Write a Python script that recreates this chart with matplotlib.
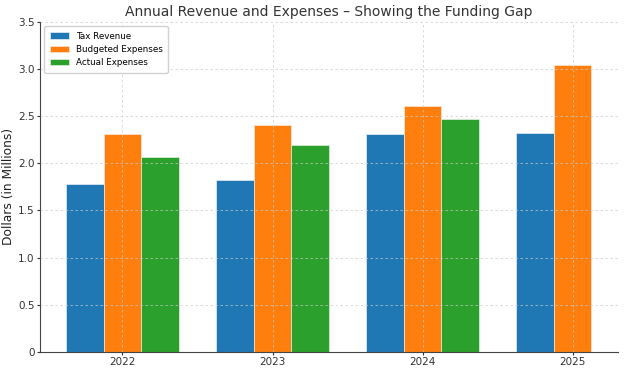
import numpy as np
import matplotlib.pyplot as plt

years = ['2022', '2023', '2024', '2025']
tax_revenue = [1.78, 1.82, 2.31, 2.32]
budgeted = [2.31, 2.41, 2.61, 3.04]
actual = [2.07, 2.19, 2.47, np.nan]
y_ticks = [0, 0.5, 1.0, 1.5, 2.0, 2.5, 3.0, 3.5]
y_labels = ['0', '0.5', '1.0', '1.5', '2.0', '2.5', '3.0', '3.5']

x = np.arange(len(years))
w = 0.25

fig, ax = plt.subplots(figsize=(6.24, 3.72), dpi=100)
ax.bar(x - w, tax_revenue, w, label='Tax Revenue', color='#1f77b4', edgecolor='#e8eef5', linewidth=0.5)
ax.bar(x, budgeted, w, label='Budgeted Expenses', color='#ff7f0e', edgecolor='#f5e8dd', linewidth=0.5)
ax.bar(x + w, actual, w, label='Actual Expenses', color='#2ca02c', edgecolor='#e2f0e2', linewidth=0.5)

ax.set_xticks(x)
ax.set_xticklabels(years)
ax.set_yticks(y_ticks)
ax.set_yticklabels(y_labels)
ax.set_ylim(0, 3.5)
ax.tick_params(labelsize=7.5, length=2, pad=2, colors='#333333')
ax.set_ylabel('Dollars (in Millions)', fontsize=8.8, color='#222222', labelpad=2)
ax.set_title('Annual Revenue and Expenses \u2013 Showing the Funding Gap',
             fontsize=10, color='#333333', pad=4)
ax.grid(True, linestyle=(0, (3, 3)), color='#cccccc', linewidth=0.6, alpha=0.8)
ax.set_axisbelow(False)
for s in ['top', 'right']:
    ax.spines[s].set_visible(False)
for s in ['left', 'bottom']:
    ax.spines[s].set_color('#444444')
ax.legend(loc='upper left', fontsize=6.3, handlelength=2.2, borderpad=0.6,
          labelspacing=0.5, framealpha=0.9)

plt.subplots_adjust(left=0.064, right=0.99, top=0.941, bottom=0.054)
plt.savefig('out.png')
